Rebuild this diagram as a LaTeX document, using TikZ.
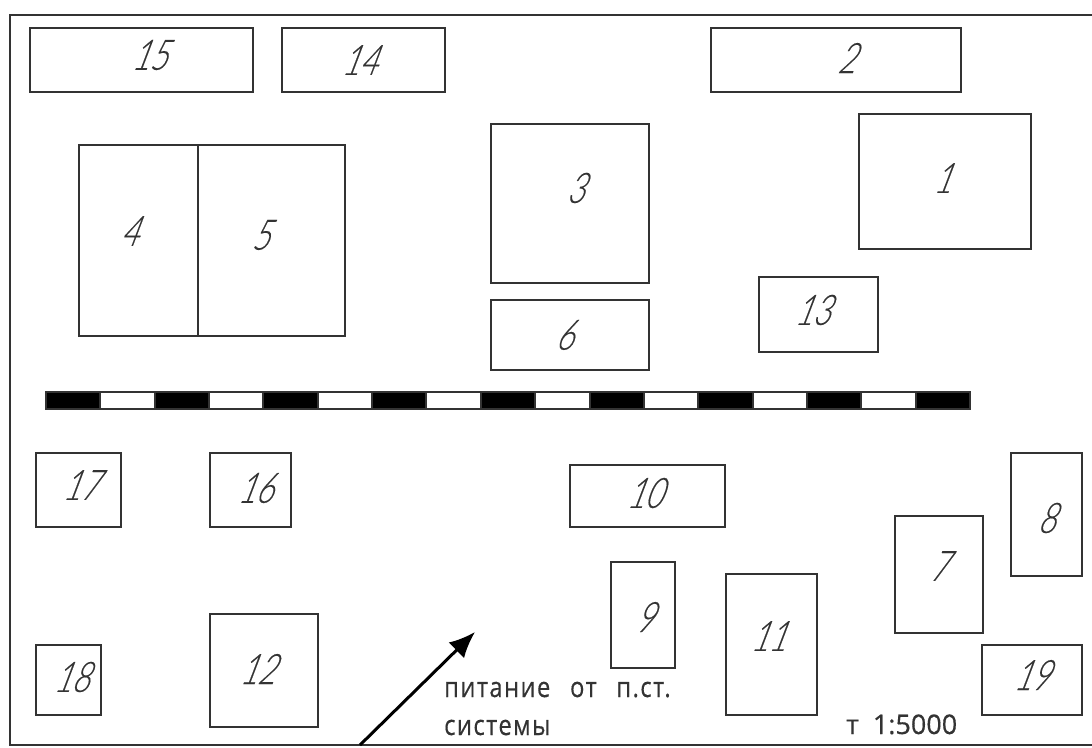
\documentclass[tikz,border=0pt]{standalone}
\usetikzlibrary{arrows.meta}
\usepackage{fontspec}
\setmainfont{Liberation Sans}
\newfontfamily\numfont[FakeSlant=0.38,FakeStretch=0.72,FakeBold=0.25]{Lato Light}
\newfontfamily\notefont[LetterSpace=5,WordSpace=2.6,FakeStretch=0.85,FakeBold=0.4]{Open Sans}
\newfontfamily\scalefont[WordSpace=2,FakeBold=0.4]{Open Sans}
\definecolor{ink}{HTML}{333333}
\tikzset{
  boxnode/.style={draw=ink,line width=2.5pt,inner sep=0pt,outer sep=0pt,fill=white},
  numlabel/.style={font=\numfont\fontsize{42}{42}\selectfont,text=ink,inner sep=0pt,xshift=-3pt},
  notelabel/.style={font=\notefont\fontsize{28}{28}\selectfont,text=ink,inner sep=0pt,anchor=base west},
  scalelabel/.style={font=\scalefont\fontsize{27}{27}\selectfont,text=ink,inner sep=0pt,anchor=base west},
  barblack/.style={draw=ink,line width=2pt,fill=black,inner sep=0pt,outer sep=0pt},
  barwhite/.style={draw=ink,line width=2pt,fill=white,inner sep=0pt,outer sep=0pt},
}
\newcommand{\planbox}[7]{%
  \node[boxnode,minimum width={(#4-#2)*1pt},minimum height={(#5-#3)*1pt}] (b#1) at ({(#2+#4)/2},{(#3+#5)/2}) {};
  \node[numlabel] (n#1) at (#6,#7) {#1};
}
\begin{document}
\begin{tikzpicture}[x=1pt,y=-1pt]
\useasboundingbox (0,0) rectangle (1092,747);
\fill[white] (0,0) rectangle (1092,747);
\coordinate (fa) at (1092,15);
\coordinate (fb) at (10,15);
\coordinate (fc) at (10,745);
\coordinate (fd) at (1092,745);
\draw[ink,line width=2.5pt] (fa) -- (fb) -- (fc) -- (fd);
\planbox{15}{30}{28}{253}{92}{152}{55}
\planbox{14}{282}{28}{445}{92}{362}{60}
\planbox{2}{711}{28}{961}{92}{849}{58}
\planbox{4}{79}{145}{198}{336}{132}{231}
\planbox{5}{198}{145}{345}{336}{263}{235}
\planbox{3}{491}{124}{649}{283}{578}{188}
\planbox{1}{859}{114}{1031}{249}{945}{178}
\planbox{6}{491}{300}{649}{370}{567}{335}
\planbox{13}{759}{277}{878}{352}{815}{310}
\planbox{17}{36}{453}{121}{527}{83}{485}
\planbox{16}{210}{453}{291}{527}{258}{488}
\planbox{10}{570}{465}{725}{527}{647}{493}
\planbox{8}{1011}{453}{1082}{576}{1049}{518}
\planbox{7}{895}{516}{983}{633}{941}{566}
\planbox{9}{611}{562}{675}{668}{647}{617}
\planbox{11}{726}{574}{817}{715}{771}{636}
\planbox{12}{210}{614}{318}{727}{260}{669}
\planbox{18}{36}{645}{101}{715}{74}{677}
\planbox{19}{982}{645}{1082}{715}{1034}{675}
\foreach \i in {0,...,16}{
  \pgfmathsetmacro{\xa}{46+\i*54.35}
  \pgfmathtruncatemacro{\odd}{mod(\i,2)}
  \ifnum\odd=0
    \node[barblack,minimum width=54.35pt,minimum height=17pt,anchor=north west] (s\i) at (\xa,391.5) {};
  \else
    \node[barwhite,minimum width=54.35pt,minimum height=17pt,anchor=north west] (s\i) at (\xa,391.5) {};
  \fi
}
\coordinate (arrowstart) at (360,745);
\coordinate (arrowtip) at (475,632);
\draw[black,line width=3pt,-{Latex[length=26pt,width=22pt]}] (arrowstart) -- (arrowtip);
\node[notelabel] (note1) at (444,697) {питание от п.ст.};
\node[notelabel] (note2) at (444,735) {системы};
\node[scalelabel] (scale) at (846,734) {т 1:5000};
\end{tikzpicture}
\end{document}
